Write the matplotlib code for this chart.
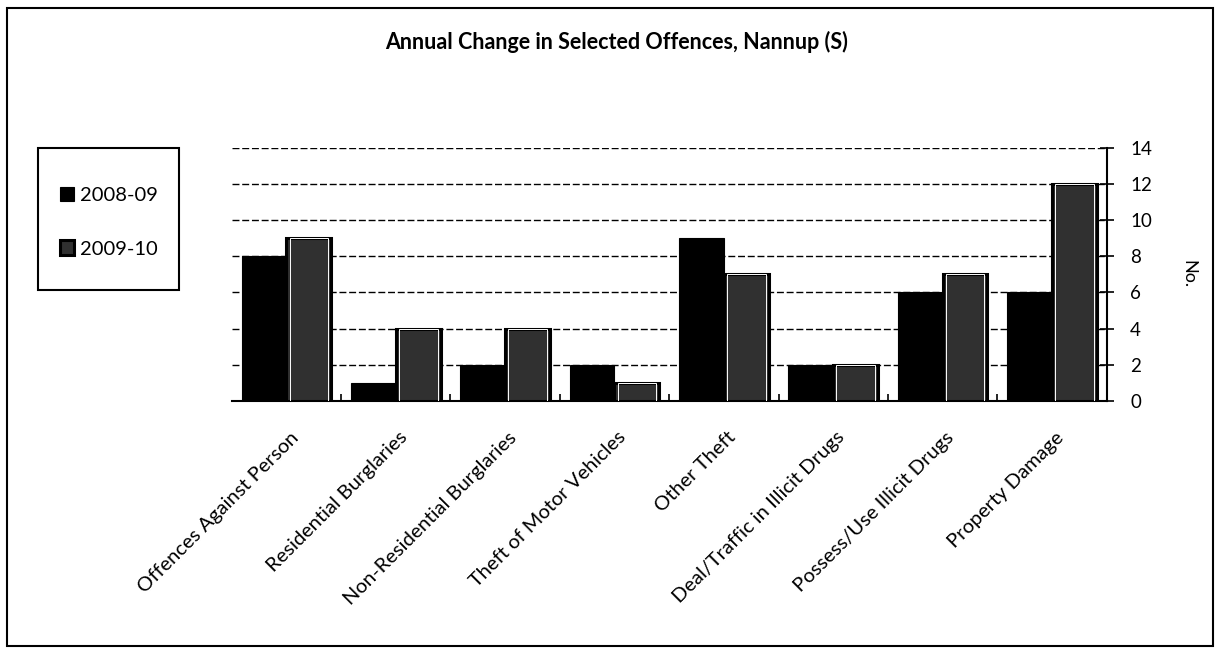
import matplotlib.pyplot as plt
import numpy as np
import matplotlib.transforms as mtransforms
from matplotlib.patches import Rectangle

plt.rcParams['font.family'] = ['Lato', 'DejaVu Sans']

categories = ["Offences Against Person", "Residential Burglaries",
              "Non-Residential Burglaries", "Theft of Motor Vehicles",
              "Other Theft", "Deal/Traffic in Illicit Drugs",
              "Possess/Use Illicit Drugs", "Property Damage"]
y2008 = [8, 1, 2, 2, 9, 2, 6, 6]
y2009 = [9, 4, 4, 1, 7, 2, 7, 12]
series_labels = ["2008-09", "2009-10"]

fig = plt.figure(figsize=(12.2, 6.54), dpi=100)
ax = fig.add_axes([0.190, 0.387, 0.717, 0.387])

x = np.arange(len(categories))
w = 0.41
b1 = ax.bar(x - w / 2, y2008, w, color="black", edgecolor="black", linewidth=0.8, zorder=3)
b2 = ax.bar(x + w / 2, y2009, w, color="#303030", edgecolor="black", linewidth=2.2, zorder=3)
# thin white inner line of the 2009-10 bars
ax.bar(x + w / 2, y2009, w * 0.86, bottom=0, color="none", edgecolor="white",
       linewidth=0.7, zorder=4)

ax.set_xlim(-0.5, len(categories) - 0.5)
ax.set_ylim(0, 14)
ax.set_yticks(range(0, 15, 2))
ax.yaxis.tick_right()
ax.yaxis.set_label_position("right")
ax.set_ylabel("No.", rotation=-90, fontsize=13, labelpad=32)
ax.yaxis.grid(True, color="black", linestyle=(0, (5, 2)), linewidth=1, zorder=0)
ax.tick_params(axis="y", labelsize=13.5, length=10, width=1.2, pad=12, direction="inout")

ax.set_xticks(x)
ax.set_xticklabels(categories, rotation=45, ha="right", rotation_mode="anchor", fontsize=14.5)
ax.tick_params(axis="x", length=0, pad=20)
offset = mtransforms.ScaledTranslation(3 / 100, 0, fig.dpi_scale_trans)
for lab in ax.get_xticklabels():
    lab.set_transform(lab.get_transform() + offset)
ax.set_xticks(np.arange(0.5, len(categories) - 0.5, 1), minor=True)
ax.tick_params(axis="x", which="minor", direction="in", length=5, width=1.2)

for s in ["top", "left"]:
    ax.spines[s].set_visible(False)
ax.spines["right"].set_linewidth(1.5)
ax.spines["bottom"].set_linewidth(1.5)

fig.suptitle("Annual Change in Selected Offences, Nannup (S)", x=0.505, y=0.952,
             fontsize=15.5, fontweight="bold")

# legend box
fig.patches.append(Rectangle((0.031, 0.557), 0.116, 0.217, transform=fig.transFigure,
                             fill=False, edgecolor="black", linewidth=1.5))
fig.legend([b1, b2], series_labels, loc="center", bbox_to_anchor=(0.089, 0.66),
           frameon=False, fontsize=14.5, labelspacing=1.8, handlelength=0.7,
           handleheight=0.7, handletextpad=0.3)

# outer border
fig.patches.append(Rectangle((0.006, 0.012), 0.988, 0.976, transform=fig.transFigure,
                             fill=False, edgecolor="black", linewidth=1.5))

fig.savefig("out.png", dpi=100)
